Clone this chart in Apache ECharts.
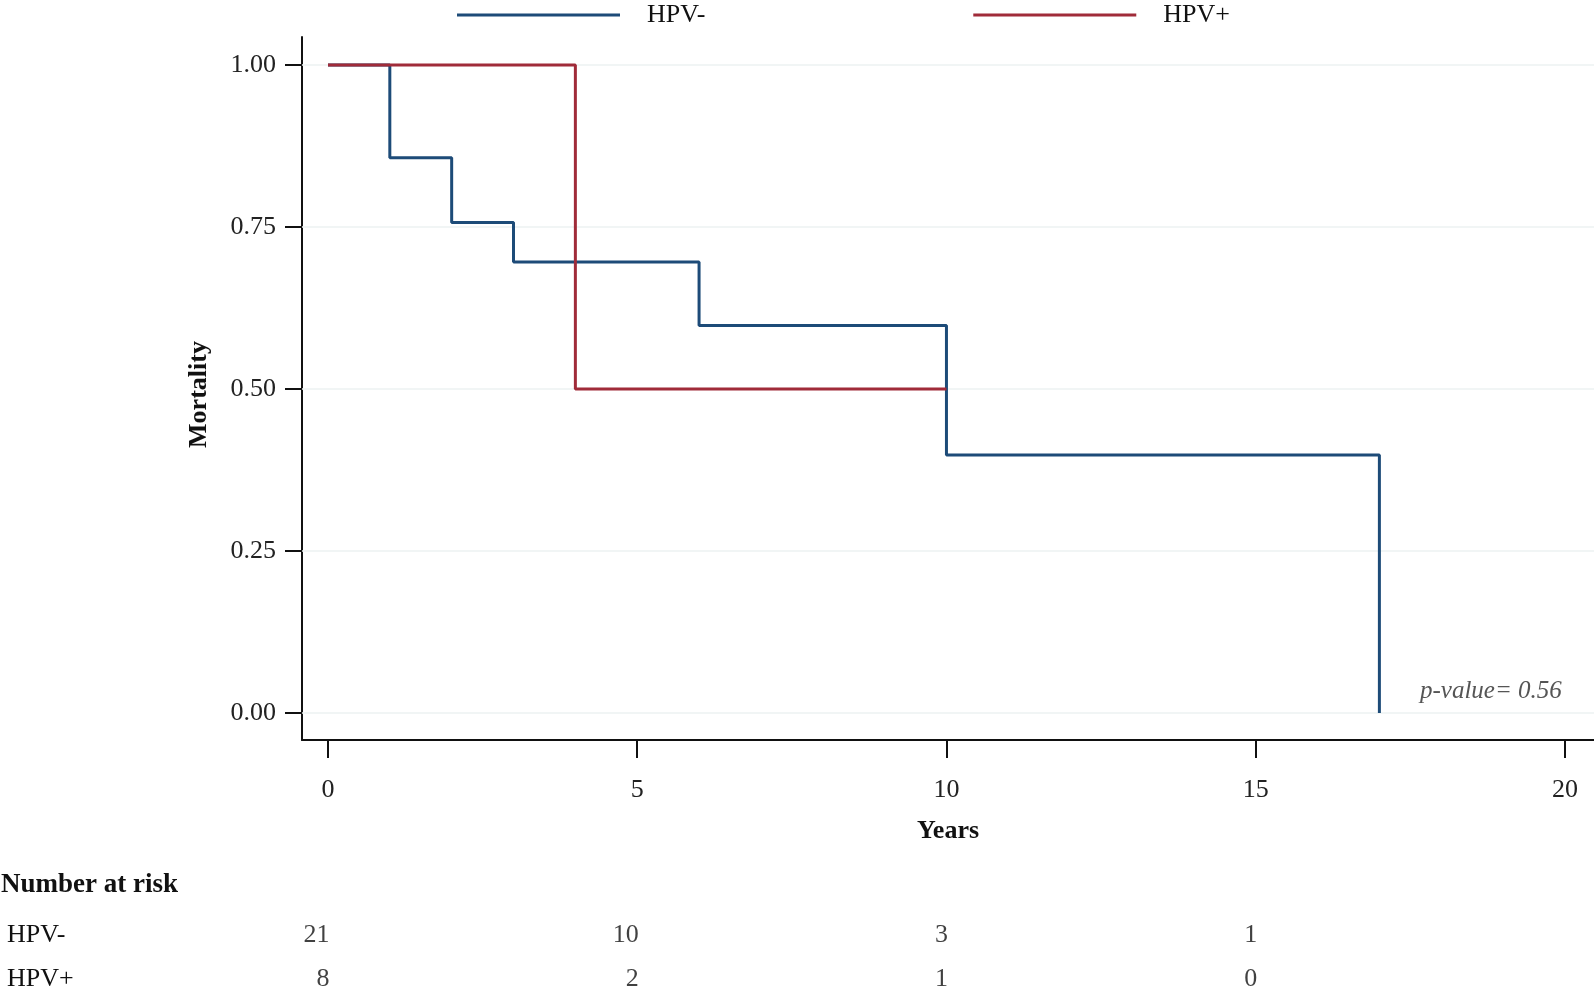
<!DOCTYPE html>
<html>
<head>
<meta charset="utf-8">
<title>Mortality by HPV status</title>
<script src="https://cdn.jsdelivr.net/npm/echarts@6/dist/echarts.min.js"></script>
<style>
  html, body { margin: 0; padding: 0; background: #fff; }
  #chart { width: 1594px; height: 992px; }
</style>
</head>
<body>
<div id="chart"></div>
<script>
const groups = ['HPV-', 'HPV+']
const colors = ['#1d4b78', '#a02b39']

// step points [years, mortality]
const hpvNeg = [[0, 1], [1, 0.857], [2, 0.757], [3, 0.696], [6, 0.598], [10, 0.398], [17, 0]]
const hpvPos = [[0, 1], [4, 0.5], [10, 0.5]]

const xTicks = [0, 5, 10, 15, 20]
const yTicks = [0, 0.25, 0.5, 0.75, 1]

// number at risk at each x tick
const riskYears = [0, 5, 10, 15]
const riskNeg = [21, 10, 3, 1]
const riskPos = [8, 2, 1, 0]

const pValue = 'p-value= 0.56'

const font = 'Liberation Serif'

const chart = echarts.init(document.getElementById('chart'))

const riskData = []
riskYears.forEach((yr, i) => {
  riskData.push([yr, 'HPV-', riskNeg[i]])
  riskData.push([yr, 'HPV+', riskPos[i]])
})

chart.setOption({
  animation: false,
  backgroundColor: '#fff',
  textStyle: { fontFamily: font },
  legend: {
    data: groups,
    left: 452,
    top: -3,
    itemWidth: 163,
    itemHeight: 3,
    itemGap: 268,
    icon: 'rect',
    textStyle: { fontFamily: font, fontSize: 26, color: '#111', padding: [0, 0, 0, 22] }
  },
  grid: [
    { left: 302, right: 0, top: 37, bottom: 252 },
    { left: 302, right: 0, top: 935, height: 54 }
  ],
  xAxis: [
    {
      type: 'value',
      min: -0.42,
      max: 20.47,
      name: 'Years',
      nameLocation: 'middle',
      nameGap: 78,
      nameTextStyle: { fontFamily: font, fontSize: 26, fontWeight: 'bold', color: '#111' },
      axisLine: { show: true, onZero: false, lineStyle: { color: '#111', width: 2 } },
      axisTick: { show: true, length: 18, customValues: xTicks, lineStyle: { color: '#111', width: 2 } },
      axisLabel: { customValues: xTicks, margin: 37, fontFamily: font, fontSize: 26, color: '#222' },
      splitLine: { show: false }
    },
    {
      type: 'value',
      gridIndex: 1,
      min: -0.42,
      max: 20.47,
      show: false
    }
  ],
  yAxis: [
    {
      type: 'value',
      min: -0.0417,
      max: 1.0432,
      name: 'Mortality',
      nameLocation: 'middle',
      nameGap: 90,
      nameTextStyle: { fontFamily: font, fontSize: 26, fontWeight: 'bold', color: '#111', padding: [0, 12, 0, 0] },
      axisLine: { show: true, onZero: false, lineStyle: { color: '#111', width: 2 } },
      axisTick: { show: true, length: 17, customValues: yTicks, lineStyle: { color: '#111', width: 2 } },
      axisLabel: {
        customValues: yTicks,
        margin: 26,
        fontFamily: font,
        fontSize: 26,
        color: '#222',
        formatter: v => v.toFixed(2)
      },
      splitLine: { show: false }
    },
    {
      type: 'category',
      gridIndex: 1,
      inverse: true,
      boundaryGap: false,
      data: groups,
      axisLine: { show: false },
      axisTick: { show: false },
      axisLabel: { align: 'left', margin: 295, fontFamily: font, fontSize: 26, color: '#111' }
    }
  ],
  graphic: [
    {
      type: 'text',
      left: 1,
      top: 872,
      style: { text: 'Number at risk', fontFamily: font, fontSize: 27, fontWeight: 'bold', fill: '#111' }
    },
    {
      type: 'text',
      left: 1420,
      top: 679,
      style: { text: pValue, fontFamily: font, fontSize: 25, fontStyle: 'italic', fill: '#555' }
    }
  ],
  series: [
    {
      // faint horizontal guides at each y tick, kept under the curves
      name: 'grid',
      type: 'line',
      data: [],
      z: 1,
      markLine: {
        z: 1,
        silent: true,
        symbol: 'none',
        label: { show: false },
        lineStyle: { color: '#edf2f2', width: 1.5, type: 'solid' },
        data: yTicks.map(v => ({ yAxis: v }))
      }
    },
    {
      name: 'HPV-',
      type: 'line',
      step: 'end',
      data: hpvNeg,
      showSymbol: false,
      symbol: 'none',
      color: colors[0],
      lineStyle: { color: colors[0], width: 3 },
      z: 6
    },
    {
      name: 'HPV+',
      type: 'line',
      step: 'end',
      data: hpvPos,
      showSymbol: false,
      symbol: 'none',
      color: colors[1],
      lineStyle: { color: colors[1], width: 3 },
      z: 7
    },
    {
      name: 'risk',
      type: 'scatter',
      xAxisIndex: 1,
      yAxisIndex: 1,
      symbolSize: 1,
      itemStyle: { color: 'rgba(0,0,0,0)' },
      data: riskData,
      label: {
        show: true,
        position: 'left',
        distance: -2,
        fontFamily: font,
        fontSize: 26,
        color: '#111',
        formatter: p => p.value[2]
      }
    }
  ]
})
</script>
</body>
</html>
